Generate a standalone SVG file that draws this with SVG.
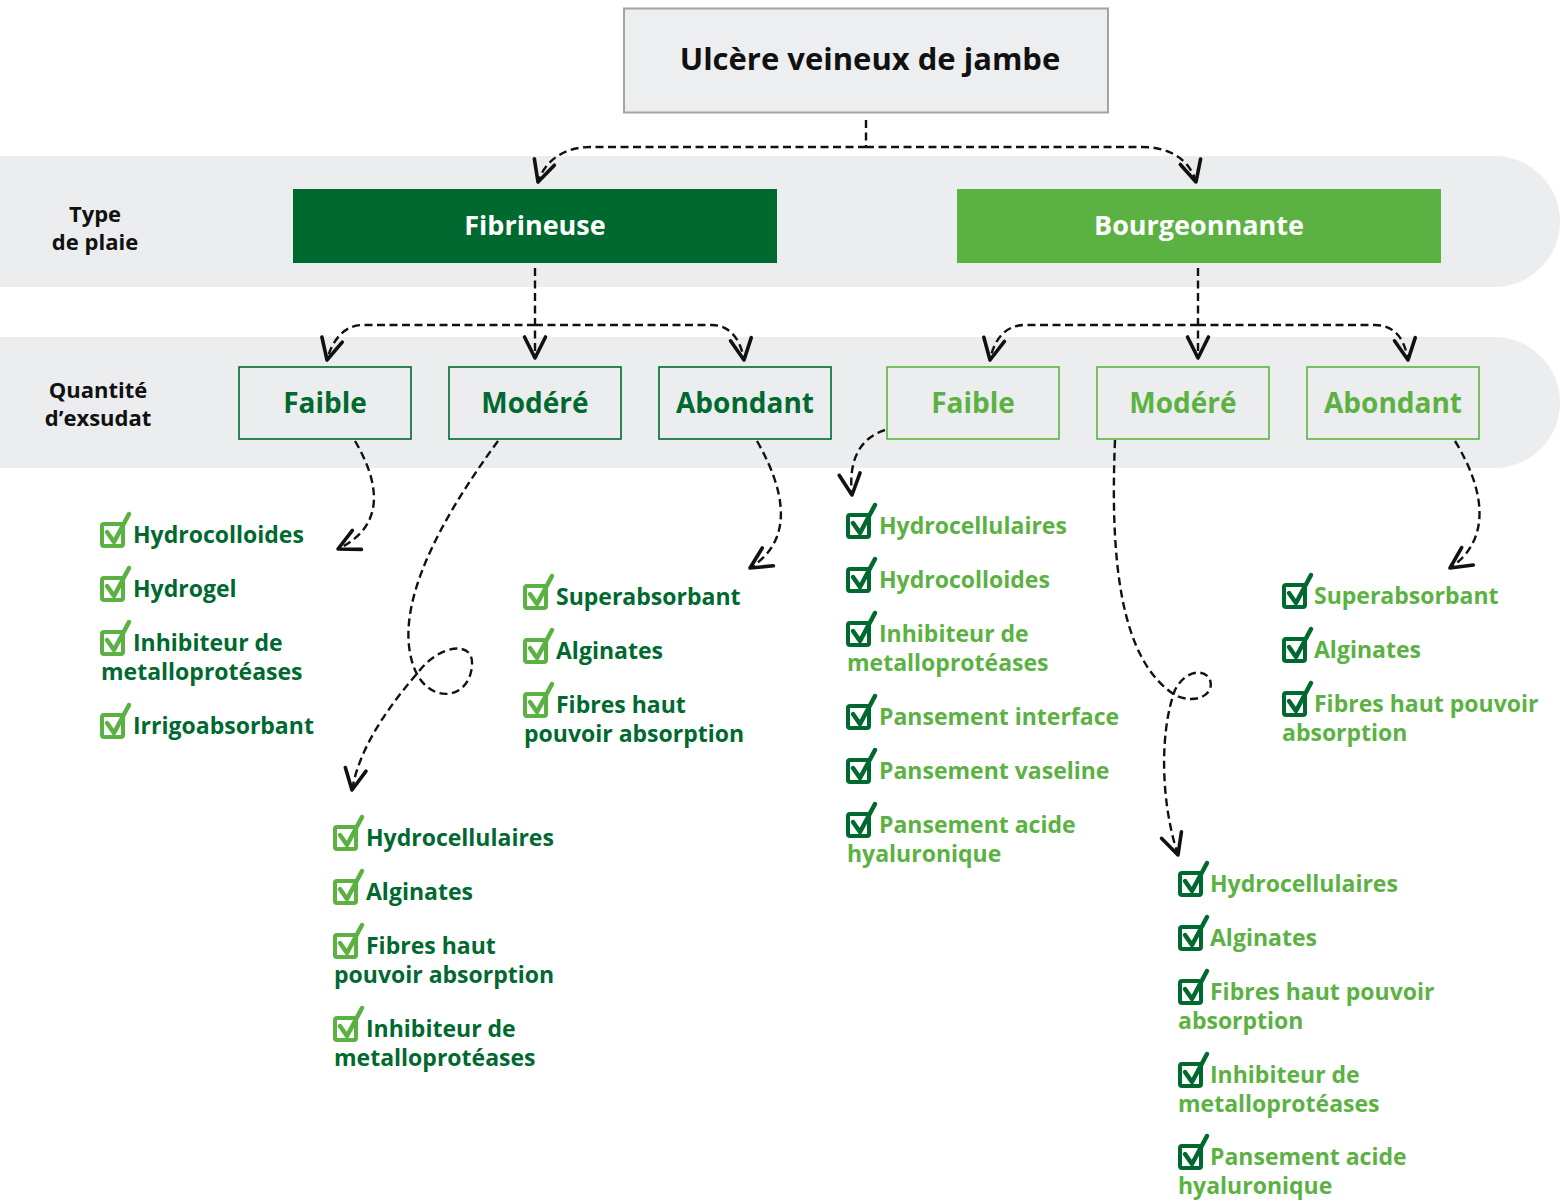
<svg xmlns="http://www.w3.org/2000/svg" width="1560" height="1202" viewBox="0 0 1560 1202">
<defs>
<style>
text{font-family:"Open Sans","Liberation Sans",sans-serif;font-weight:700}
.lbl{font-size:22px;fill:#111;text-anchor:middle}
.it{font-size:23px}
.dk{fill:#00692f}
.lt{fill:#5bb243}
.con{fill:none;stroke:#111;stroke-width:2.4;stroke-dasharray:8 4.5;marker-end:url(#ar)}
.conn{fill:none;stroke:#111;stroke-width:2.4;stroke-dasharray:8 4.5}
.qb{fill:none;stroke-width:1.6}
.q{font-size:28px;text-anchor:middle}
</style>
<marker id="ar" markerUnits="userSpaceOnUse" markerWidth="30" markerHeight="30" refX="0" refY="0" viewBox="-16 -10 20 20" orient="auto">
<path d="M-14,-7 L0,0 L-14,7" fill="none" stroke="#111" stroke-width="2.4" stroke-linecap="round" stroke-linejoin="round"/>
</marker>
<g id="ckL">
<rect x="2" y="-19" width="21" height="22" rx="2" fill="none" stroke="#5bb243" stroke-width="4"/>
<path d="M7,-11 L14,-1 L29,-29" fill="none" stroke="#5bb243" stroke-width="4.5" stroke-linecap="round" stroke-linejoin="round"/>
</g>
<g id="ckR">
<rect x="2" y="-19" width="21" height="22" rx="2" fill="none" stroke="#00692f" stroke-width="4"/>
<path d="M7,-11 L14,-1 L29,-29" fill="none" stroke="#00692f" stroke-width="4.5" stroke-linecap="round" stroke-linejoin="round"/>
</g>
</defs>
<rect width="1560" height="1202" fill="#ffffff"/>
<g id="bands">
<path d="M0,156 H1494.5 A65.5,65.5 0 0 1 1494.5,287 H0 Z" fill="#ecedef"/>
<path d="M0,337 H1494.5 A65.5,65.5 0 0 1 1494.5,468 H0 Z" fill="#ecedef"/>
<text class="lbl" x="95" y="222">Type</text>
<text class="lbl" x="95" y="250">de plaie</text>
<text class="lbl" x="98" y="398">Quantité</text>
<text class="lbl" x="98" y="426">d’exsudat</text>
</g>
<g id="root">
<rect x="624" y="8.5" width="484" height="104" fill="#edeef0" stroke="#a3a3a3" stroke-width="2"/>
<text x="870" y="70" font-size="31" fill="#111" text-anchor="middle">Ulcère veineux de jambe</text>
</g>
<g id="fibrineuse">
<rect x="293" y="189" width="484" height="74" fill="#00692f"/>
<text x="535" y="235" font-size="27" fill="#fff" text-anchor="middle">Fibrineuse</text>
</g>
<g id="bourgeonnante">
<rect x="957" y="189" width="484" height="74" fill="#5bb243"/>
<text x="1199" y="235" font-size="27" fill="#fff" text-anchor="middle">Bourgeonnante</text>
</g>
<g id="f-faible"><rect class="qb" x="239" y="367" width="172" height="72" stroke="#00692f"/><text class="q dk" x="325" y="413">Faible</text></g>
<g id="f-modere"><rect class="qb" x="449" y="367" width="172" height="72" stroke="#00692f"/><text class="q dk" x="535" y="413">Modéré</text></g>
<g id="f-abondant"><rect class="qb" x="659" y="367" width="172" height="72" stroke="#00692f"/><text class="q dk" x="745" y="413">Abondant</text></g>
<g id="b-faible"><rect class="qb" x="887" y="367" width="172" height="72" stroke="#5bb243"/><text class="q lt" x="973" y="413">Faible</text></g>
<g id="b-modere"><rect class="qb" x="1097" y="367" width="172" height="72" stroke="#5bb243"/><text class="q lt" x="1183" y="413">Modéré</text></g>
<g id="b-abondant"><rect class="qb" x="1307" y="367" width="172" height="72" stroke="#5bb243"/><text class="q lt" x="1393" y="413">Abondant</text></g>
<g id="connectors">
<path class="conn" d="M866,120 V147"/>
<path class="con" d="M866,147 H590 C565,147 545,160 538,182"/>
<path class="con" d="M866,147 H1142 C1170,147 1190,160 1196,182"/>
<path class="con" d="M535,268 V358"/>
<path class="con" d="M535,325 H362 C345,325 332,340 327,360"/>
<path class="con" d="M535,325 H712 C730,325 741,340 744,360"/>
<path class="con" d="M1198,268 V358"/>
<path class="con" d="M1198,325 H1025 C1005,325 994,340 990,360"/>
<path class="con" d="M1198,325 H1375 C1395,325 1405,340 1408,360"/>
<path class="con" d="M355,441 C378,480 388,525 338,549"/>
<path class="con" d="M498,441 C440,520 390,610 415,670 C430,705 470,700 472,665 C474,640 440,645 420,670 C390,705 360,745 352,790"/>
<path class="con" d="M757,441 C785,490 795,540 750,568"/>
<path class="con" d="M885,430 C860,438 848,460 852,495"/>
<path class="con" d="M1115,440 C1110,560 1120,660 1175,695 C1195,705 1215,695 1210,680 C1205,668 1185,670 1175,690 C1160,730 1160,800 1178,855"/>
<path class="con" d="M1455,441 C1485,490 1492,540 1450,568"/>
</g>
<g id="list-f-faible" class="it dk">
<use href="#ckL" x="100" y="543"/><text x="133" y="543">Hydrocolloides</text>
<use href="#ckL" x="100" y="597"/><text x="133" y="597">Hydrogel</text>
<use href="#ckL" x="100" y="651"/><text x="133" y="651">Inhibiteur de</text>
<text x="101" y="680">metalloprotéases</text>
<use href="#ckL" x="100" y="734"/><text x="133" y="734">Irrigoabsorbant</text>
</g>
<g id="list-f-modere" class="it dk">
<use href="#ckL" x="333" y="846"/><text x="366" y="846">Hydrocellulaires</text>
<use href="#ckL" x="333" y="900"/><text x="366" y="900">Alginates</text>
<use href="#ckL" x="333" y="954"/><text x="366" y="954">Fibres haut</text>
<text x="334" y="983">pouvoir absorption</text>
<use href="#ckL" x="333" y="1037"/><text x="366" y="1037">Inhibiteur de</text>
<text x="334" y="1066">metalloprotéases</text>
</g>
<g id="list-f-abondant" class="it dk">
<use href="#ckL" x="523" y="605"/><text x="556" y="605">Superabsorbant</text>
<use href="#ckL" x="523" y="659"/><text x="556" y="659">Alginates</text>
<use href="#ckL" x="523" y="713"/><text x="556" y="713">Fibres haut</text>
<text x="524" y="742">pouvoir absorption</text>
</g>
<g id="list-b-faible" class="it lt">
<use href="#ckR" x="846" y="534"/><text x="879" y="534">Hydrocellulaires</text>
<use href="#ckR" x="846" y="588"/><text x="879" y="588">Hydrocolloides</text>
<use href="#ckR" x="846" y="642"/><text x="879" y="642">Inhibiteur de</text>
<text x="847" y="671">metalloprotéases</text>
<use href="#ckR" x="846" y="725"/><text x="879" y="725">Pansement interface</text>
<use href="#ckR" x="846" y="779"/><text x="879" y="779">Pansement vaseline</text>
<use href="#ckR" x="846" y="833"/><text x="879" y="833">Pansement acide</text>
<text x="847" y="862">hyaluronique</text>
</g>
<g id="list-b-modere" class="it lt">
<use href="#ckR" x="1178" y="892"/><text x="1210" y="892">Hydrocellulaires</text>
<use href="#ckR" x="1178" y="946"/><text x="1210" y="946">Alginates</text>
<use href="#ckR" x="1178" y="1000"/><text x="1210" y="1000">Fibres haut pouvoir</text>
<text x="1178" y="1029">absorption</text>
<use href="#ckR" x="1178" y="1083"/><text x="1210" y="1083">Inhibiteur de</text>
<text x="1178" y="1112">metalloprotéases</text>
<use href="#ckR" x="1178" y="1165"/><text x="1210" y="1165">Pansement acide</text>
<text x="1178" y="1194">hyaluronique</text>
</g>
<g id="list-b-abondant" class="it lt">
<use href="#ckR" x="1282" y="604"/><text x="1314" y="604">Superabsorbant</text>
<use href="#ckR" x="1282" y="658"/><text x="1314" y="658">Alginates</text>
<use href="#ckR" x="1282" y="712"/><text x="1314" y="712">Fibres haut pouvoir</text>
<text x="1282" y="741">absorption</text>
</g>
</svg>
